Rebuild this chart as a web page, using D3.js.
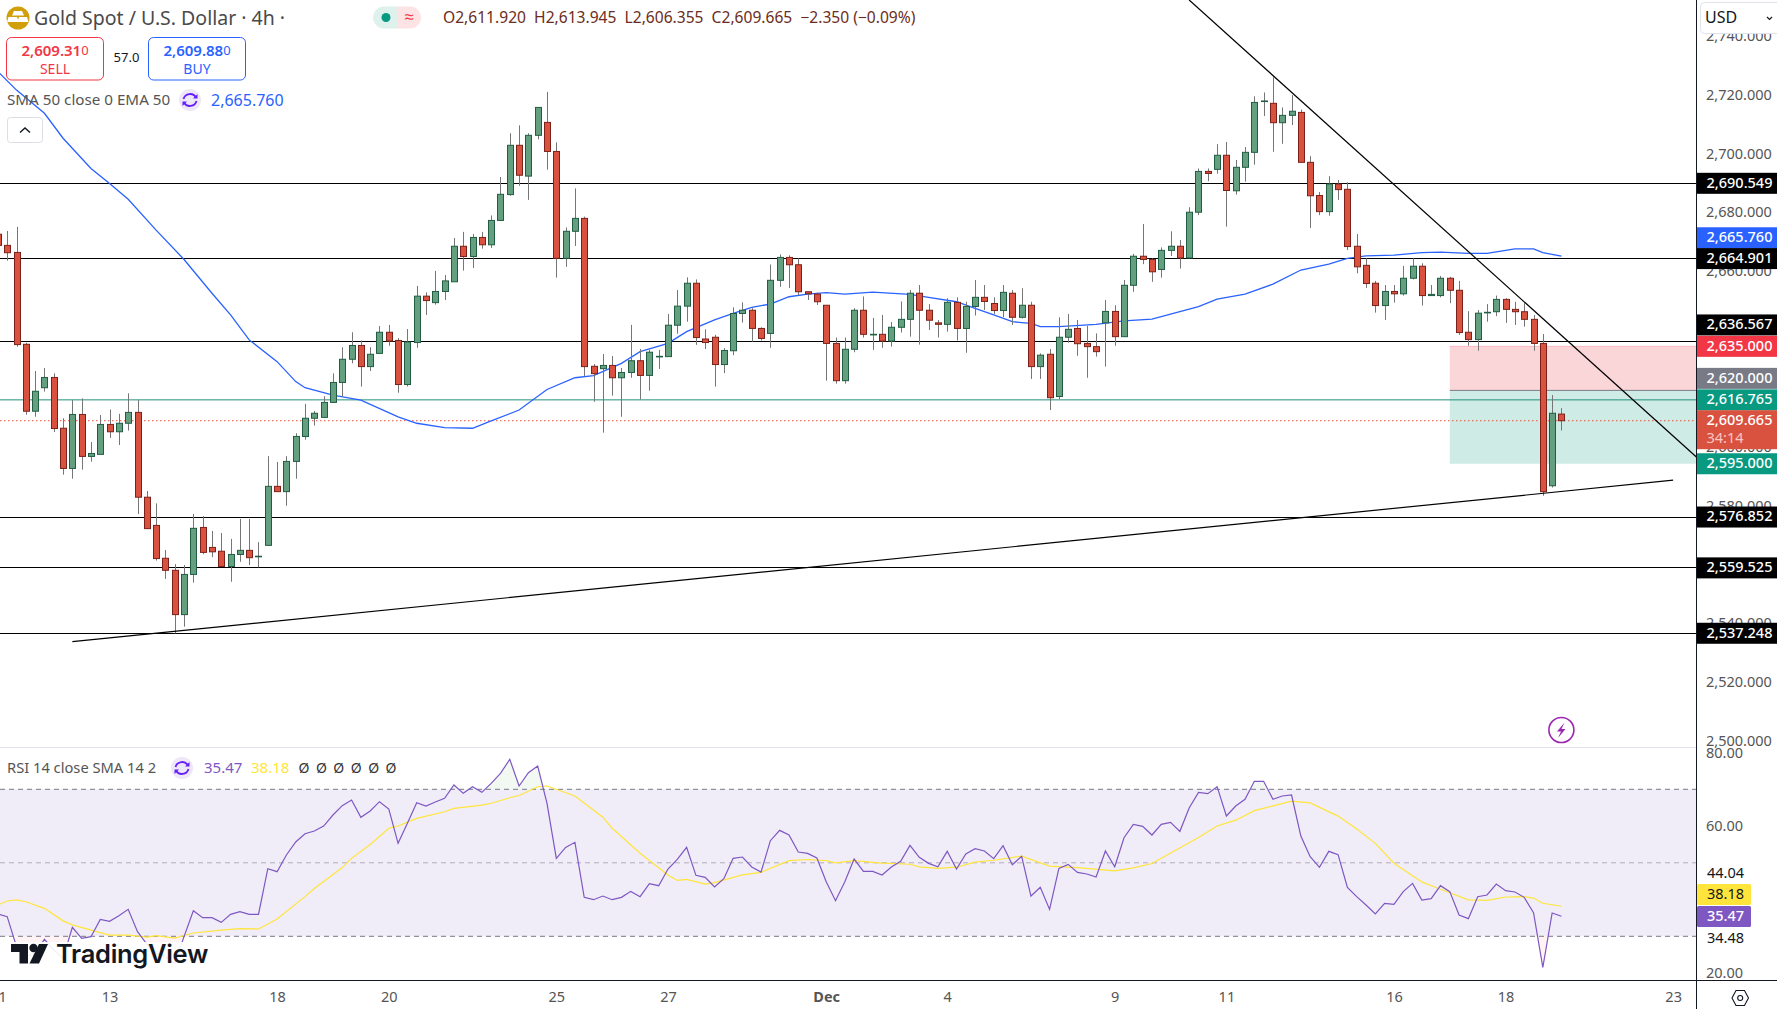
<!DOCTYPE html>
<html>
<head>
<meta charset="utf-8">
<script src="https://cdn.jsdelivr.net/npm/d3@7"></script>
<style>
html, body { margin: 0; padding: 0; background: #fff; overflow: hidden; }
text { font-family: "Noto Sans", "Open Sans", sans-serif; }
</style>
</head>
<body>
<div id="wrapper"></div>
<script>
// 4h bars, index 0 is the partly cut bar at the left edge
const opens = [2673.2,2669.4,2667,2635.7,2612.9,2620.9,2624.4,2607.1,2593.4,2611.8,2597.5,2598.2,2608.4,2605.9,2608.8,2612.5,2583.6,2574,2562.8,2558.7,2543.6,2557.3,2573.3,2566.5,2565.2,2560,2564.1,2565.5,2563.4,2567.2,2587.3,2585.5,2595.8,2604.3,2610.5,2610.8,2615.9,2622.7,2630.6,2635.3,2628.1,2632.6,2639.8,2637,2622,2636.3,2652.1,2649.9,2653.7,2657,2669.1,2665.6,2672.1,2669.6,2677.9,2686.7,2703.5,2693,2706.9,2711.3,2701.4,2665,2674.2,2678.6,2628.2,2627.4,2628.5,2624.3,2626.1,2630.1,2625.1,2631.5,2631.5,2642.2,2648.7,2656.5,2637.5,2638.1,2628.8,2633.5,2646.2,2647.3,2641.1,2639.4,2657.5,2665.3,2662.8,2653.6,2652.8,2649,2636,2623.3,2634,2647.3,2639,2639.1,2636.8,2641.5,2644.2,2653.1,2647.3,2643,2642.5,2650,2641.1,2648.6,2651.7,2649.6,2647.2,2653.1,2644.9,2649,2628.1,2632.3,2617.9,2638.1,2641.1,2636,2634.9,2643,2646.9,2638.3,2655.8,2665.7,2664.6,2661.2,2667.7,2669.1,2665.1,2680.7,2694.6,2695.3,2700.1,2688,2696,2701.1,2718.5,2717.8,2711.2,2713.7,2714.7,2697.7,2686.4,2680.9,2690.3,2688.5,2669.1,2662.6,2656.5,2648.9,2653.7,2652.9,2658.2,2662.3,2652.3,2652.3,2658.2,2654.1,2639.8,2637.3,2646.4,2646.8,2651,2647.6,2646.8,2644.2,2636,2587.5,2611.92]
const highs = [2674,2674.3,2675.7,2636.2,2626.6,2627.6,2625.8,2610.5,2616.7,2617.3,2602.4,2611.6,2613.5,2612,2619,2616.7,2585.7,2581.5,2565.6,2560.8,2560.5,2577.9,2577.2,2572.1,2571.4,2569.4,2576.2,2576.2,2568.3,2597.6,2595.6,2597.6,2605.4,2615.4,2613,2618,2625.8,2634.7,2639.8,2637,2634.7,2641.9,2642.3,2637.8,2640.9,2655.6,2653.4,2660.7,2659.3,2671.9,2674,2673.3,2674,2679.6,2692.7,2707.6,2710.3,2707.6,2716.4,2721.7,2704.5,2675.5,2688.8,2679.2,2629,2632.4,2631.7,2627.6,2642.3,2634.1,2633.8,2633.8,2646,2654.2,2658.5,2657.8,2640.8,2638.9,2634.4,2648.3,2650,2648,2641.5,2662.9,2666.3,2666,2665,2653.6,2653.3,2649,2638,2638,2648,2652,2644.7,2645.7,2643.3,2650.3,2654.2,2655.9,2649.4,2644,2651.4,2651.7,2650.2,2657.6,2655.9,2651.7,2655.9,2654.2,2654.8,2650.2,2632.6,2634.1,2644.9,2646,2644,2642,2639.4,2650.8,2649,2657.6,2666.5,2676.7,2665,2668.7,2674.2,2671.2,2682.4,2695.6,2695.6,2703.9,2704.6,2698.5,2702.9,2720.2,2721.5,2726.7,2716.4,2720.6,2715.7,2699.8,2687.6,2693,2691.7,2690.9,2673.3,2665,2657.3,2655.9,2655.9,2662.4,2665,2663.3,2655.9,2659,2658.7,2657.3,2647,2647.4,2649.4,2652.3,2651.4,2650.2,2649.7,2645.7,2639.2,2618.4,2613.945]
const lows = [2668,2664.2,2634.9,2611.7,2611,2619.6,2605.8,2591.3,2589.9,2593,2595.7,2598.2,2603.8,2601.4,2606.3,2577.9,2572.9,2562,2555.8,2537.2,2539.5,2554.5,2564.2,2563.2,2560,2554.8,2561.6,2560.5,2559.7,2567.2,2585.5,2580.7,2589.9,2603.2,2608,2610.8,2615.9,2617.9,2629.2,2621.3,2626.6,2632.6,2635.2,2619.2,2621.3,2634.5,2645.7,2649.2,2650.8,2657,2660.8,2661.7,2668.3,2668.5,2677.9,2686.3,2689.7,2684.9,2705.5,2695.2,2658.4,2662.1,2669.2,2624.9,2616.1,2605.6,2618.2,2611,2624.3,2616.9,2619.9,2627.3,2631.5,2639.3,2643.4,2635.5,2634.1,2621.3,2625.9,2632,2643.1,2636.6,2637,2634.5,2655.3,2654.9,2652.5,2650.8,2649.1,2623.3,2622.3,2622.3,2633,2638,2633.8,2634.5,2634.9,2639.7,2638.3,2635.6,2640.6,2638,2640,2637,2632.8,2645.5,2647.4,2646,2645,2642.3,2644.5,2623.9,2623.9,2613.3,2617,2636.2,2631.8,2624.3,2631.5,2628.1,2635.2,2638.3,2653.6,2663,2657,2658.4,2665.8,2661.5,2665,2679.7,2691.3,2693.8,2675.8,2686.7,2691.1,2696.9,2713.5,2701.3,2704,2710.4,2697.7,2675.3,2679.7,2679.5,2684.9,2667.8,2659.9,2654.9,2646.5,2644,2649.9,2652.3,2657.8,2648.9,2652.3,2651.7,2649.7,2638.9,2635.2,2633.5,2643.4,2645.3,2643,2642.3,2641.7,2633.5,2584.1,2586.9,2606.355]
const closes = [2669.4,2666.9,2635.6,2612.9,2619.7,2624.4,2607,2593.4,2611.8,2597.5,2598.5,2608.4,2605.9,2608.8,2612.5,2583.6,2572.9,2562.7,2558.7,2543.6,2557.3,2573,2564.8,2565,2560,2564.1,2565.5,2563,2563.5,2587.3,2585.5,2595.8,2604.3,2610.5,2612.2,2615.9,2622.7,2630.6,2635.3,2628.1,2632.3,2639.8,2636.8,2622,2636.5,2652.1,2650.6,2653.7,2657.3,2669.1,2665.6,2672.1,2669.6,2677.9,2686.8,2703.5,2693.3,2706.9,2716.4,2701.4,2665,2674.2,2678.6,2628.1,2625.7,2628.5,2624.3,2626.1,2630.1,2625.1,2633,2631.6,2642.2,2648.7,2656.5,2638,2636.3,2628.8,2633.6,2646.2,2647.3,2641.1,2637.7,2657.5,2665.3,2662.8,2653.6,2652.9,2650.2,2636,2623.3,2634,2647.3,2639.1,2639.1,2636.8,2641.5,2644.2,2653.1,2647.3,2643.9,2642.5,2650,2641.1,2648.6,2651.7,2650.3,2647.2,2653.4,2644.9,2649,2628.1,2632,2617.5,2638.1,2640.8,2635.9,2634.9,2633.2,2646.9,2638.3,2655.8,2665.7,2664.6,2660.4,2667.7,2669.1,2665.1,2680.7,2694.6,2693.9,2700.1,2688.1,2696,2701.1,2718.1,2718.6,2711.2,2713.7,2715.1,2697.7,2686.3,2680.9,2690.3,2688.4,2669,2662.1,2656.4,2648.9,2653.7,2652.9,2658.2,2662.3,2652.3,2652.7,2658.2,2654.1,2639.7,2637.3,2646.3,2646.6,2651,2647.6,2646.8,2644.2,2636,2585.5,2612.2,2609.665]

// EMA 50, vertices
const emaBars = [0,2,5,7,10,12,14,17,20,23,25,27,30,32,33,36,39,43,45,48,51,53,56,59,62,64,67,69,72,74,77,79,81,83,85,87,89,91,94,98,100,103,105,107,109,111,112,114,118,121,124,126,129,131,134,137,140,143,145,147,150,153,155,158,160,163,165,166,168]
const emaValues = [2728.6,2722.3,2714.4,2705.9,2695.6,2690.5,2685.1,2674.6,2664.6,2653.1,2645.7,2637.2,2629.8,2623,2620.9,2618.4,2616.7,2611,2608.8,2607.3,2607.1,2609.6,2613.3,2620.3,2624.3,2625,2629.2,2633.2,2636,2640,2644,2646.2,2648.3,2649.4,2651.9,2652.8,2653.3,2652.8,2653.5,2652.7,2651.7,2650.2,2647.9,2645.7,2643.4,2642.8,2641.7,2641.7,2642.5,2643.7,2644.3,2646,2648.5,2651.1,2652.8,2656.2,2661,2663,2665,2665.8,2666.1,2666.9,2667.1,2666.7,2666.7,2668.2,2668.2,2666.9,2665.76]

// RSI 14, one value per bar
const rsiValues = [36.06,35.34,27.2,24.45,25.36,29.17,26.27,24,32.44,29.44,29.9,34.6,34.07,35.61,37.33,31.26,27.9,25.36,24.45,22.64,29.9,36.97,35.07,35.07,33.8,35.97,36.7,35.97,35.97,48.4,47.58,52.12,55.66,57.92,58.65,60.01,63,65.54,67.08,62.37,64.09,66.63,64.63,55.29,60.73,66.36,65.45,66.54,67.54,71.17,68.9,70.71,69.17,71.62,74.34,78.15,70.89,74.52,76.34,66.18,51.21,54.2,55.57,40.6,39.96,40.96,39.96,40.6,42.23,40.78,44.32,43.77,48.31,50.94,54.2,46.59,46.04,43.41,45.68,51.21,51.57,48.85,47.49,56.02,58.83,57.56,52.93,52.57,51.3,44.86,39.69,44.86,51.03,47.67,47.67,46.68,48.85,50.4,54.75,51.48,49.85,48.94,53.12,48.31,52.39,53.84,53.21,51.12,54.66,49.49,51.76,40.96,43.32,37.33,48.49,49.58,47.4,46.95,46.13,53.21,48.94,56.83,60.46,59.92,57.56,60.46,61.01,58.56,64.91,69.17,68.81,70.72,62.73,65.46,67.27,72.17,72.17,67.27,68.18,68.45,57.29,51.67,48.77,53.12,52.21,43.32,40.78,38.52,36.07,38.97,38.7,42.15,44.41,39.88,40.24,43.78,42.15,35.8,34.8,40.78,41.24,44.23,42.42,42.05,40.6,36.43,21.56,36.34,35.47]

// RSI smoothing line, vertices
const smaBars = [0,1,2,3,5,7,8,11,12,14,16,17,19,21,24,26,28,30,33,34,35,37,38,40,42,43,45,48,49,52,53,55,56,58,59,62,65,66,69,72,73,74,76,77,80,82,85,87,89,90,92,95,98,99,101,103,105,107,110,113,116,120,122,124,129,131,133,135,137,139,141,144,146,148,150,152,153,155,158,160,162,164,165,166,168]
const smaValues = [38.5,39.6,39.9,39.4,37.6,34.2,33.1,31,30.3,30.3,29.8,30.2,29.5,30.9,31.7,32.1,32,34.7,40.8,43,44.9,48.7,51.2,55,59.4,60,62.1,63.9,64.8,65.7,66.2,67.7,68.3,70.7,70.9,68.2,62.4,59.4,52.6,46.7,45.2,45.5,44.2,44.6,46.7,47.4,50.6,50.9,50.6,50,50.6,49.9,49.6,48.9,48.5,48.8,50.2,50.7,51.8,49.1,48.7,47.8,48.6,49.8,56.9,60,61.6,64.2,65.5,66.8,66.3,62.7,59.2,55.3,49.9,46.5,44.8,42.8,39.9,39.8,40.7,40.8,40.4,39,38.18]

const blackLevels = [2690.549, 2664.901, 2636.567, 2576.852, 2559.525, 2537.248]
const lastPrice = 2609.665
const tealLevel = 2616.765
const stopPrice = 2635
const entryPrice = 2620
const targetPrice = 2595
const boxStartBar = 156

const fallingLine = [[128, 2753], [182.5, 2597.3]]
const risingLine = [[8, 2534.4], [180, 2589.4]]

// 2,640 2,620 and 2,560 sit fully behind the price labels in the picture
const priceTicks = [2740, 2720, 2700, 2680, 2660, 2600, 2580, 2540, 2520, 2500]
const rsiTicks = [80, 60, 20]
const rsiBands = [70, 50, 30]
const timeBars = [0, 12, 30, 42, 60, 72, 89, 102, 120, 132, 150, 162, 180]
const timeLabels = ["11", "13", "18", "20", "25", "27", "Dec", "4", "9", "11", "16", "18", "23"]

const labelTexts = ["2,690.549","2,665.760","2,664.901","2,636.567","2,635.000","2,620.000","2,616.765","2,595.000","2,576.852","2,559.525","2,537.248"]
const labelPrices = [2690.549, 2665.76, 2664.901, 2636.567, 2635, 2620, 2616.765, 2595, 2576.852, 2559.525, 2537.248]

const width = 1777
const height = 1009
const axisX = 1696.5
const paneBottom = 747
const rsiBottom = 980

const green = "#649f80", greenEdge = "#215d43"
const red = "#d9513f", redEdge = "#7c2119"
const blue = "#2962ff", purple = "#7e57c2", yellow = "#ffe53b"
const ink = "#131722", gray = "#555"

const svg = d3.select("#wrapper")
    .append("svg")
    .attr("width", width)
    .attr("height", height)
    .style("display", "block")

const xScale = d3.scaleLinear().domain([0, 182.5]).range([-2.1, 1696.4])
const yScale = d3.scaleLinear().domain([2753, 2498.5]).range([0, paneBottom])
const rsiScale = d3.scaleLinear().domain([80, 20]).range([752.55, 973.05])

const defs = svg.append("defs")
defs.append("clipPath").attr("id", "pricePane").append("rect")
    .attr("width", axisX).attr("height", paneBottom)
defs.append("clipPath").attr("id", "rsiPane").append("rect")
    .attr("y", paneBottom).attr("width", axisX).attr("height", rsiBottom - paneBottom)
defs.append("clipPath").attr("id", "aboveBand").append("rect")
    .attr("y", paneBottom).attr("width", axisX).attr("height", rsiScale(70) - paneBottom)
defs.append("clipPath").attr("id", "belowBand").append("rect")
    .attr("y", rsiScale(30)).attr("width", axisX).attr("height", rsiBottom - rsiScale(30))

// ---- price pane ----
const pane = svg.append("g").attr("clip-path", "url(#pricePane)")

pane.append("rect")
    .attr("x", xScale(boxStartBar)).attr("y", yScale(stopPrice))
    .attr("width", axisX - xScale(boxStartBar)).attr("height", yScale(entryPrice) - yScale(stopPrice))
    .attr("fill", "#fbd6d9")
pane.append("rect")
    .attr("x", xScale(boxStartBar)).attr("y", yScale(entryPrice))
    .attr("width", axisX - xScale(boxStartBar)).attr("height", yScale(targetPrice) - yScale(entryPrice))
    .attr("fill", "#ceebe5")
pane.append("line")
    .attr("x1", xScale(boxStartBar)).attr("x2", axisX)
    .attr("y1", yScale(stopPrice)).attr("y2", yScale(stopPrice))
    .attr("stroke", "#f9b9be").attr("stroke-width", 1)
pane.append("line")
    .attr("x1", xScale(boxStartBar)).attr("x2", axisX)
    .attr("y1", yScale(entryPrice)).attr("y2", yScale(entryPrice))
    .attr("stroke", "#787b86").attr("stroke-width", 1)

pane.selectAll(".level")
    .data(blackLevels)
    .enter()
    .append("line")
    .attr("class", "level")
    .attr("x1", 0).attr("x2", axisX)
    .attr("y1", d => Math.floor(yScale(d)) + 0.5)
    .attr("y2", d => Math.floor(yScale(d)) + 0.5)
    .attr("stroke", "#000").attr("stroke-width", 1.2)

pane.append("line")
    .attr("x1", 0).attr("x2", axisX)
    .attr("y1", yScale(tealLevel)).attr("y2", yScale(tealLevel))
    .attr("stroke", "#22917e").attr("stroke-width", 1)
pane.append("line")
    .attr("x1", 0).attr("x2", axisX)
    .attr("y1", yScale(lastPrice)).attr("y2", yScale(lastPrice))
    .attr("stroke", "#f0503c").attr("stroke-width", 1).attr("stroke-dasharray", "1.5 2.5")

const emaLine = d3.line()
    .x((d, i) => xScale(emaBars[i]))
    .y(d => yScale(d))
pane.append("path")
    .datum(emaValues)
    .attr("fill", "none").attr("stroke", blue).attr("stroke-width", 1.3)
    .attr("d", emaLine)

const bars = pane.append("g")
    .selectAll("g")
    .data(opens.map((o, i) => i))
    .enter()
    .append("g")
bars.append("line")
    .attr("x1", i => Math.round(xScale(i)) + 0.5).attr("x2", i => Math.round(xScale(i)) + 0.5)
    .attr("y1", i => yScale(highs[i])).attr("y2", i => yScale(lows[i]))
    .attr("stroke", "#767676").attr("stroke-width", 1)
bars.append("rect")
    .attr("x", i => Math.round(xScale(i)) - 2.5)
    .attr("width", 6)
    .attr("y", i => yScale(Math.max(opens[i], closes[i])))
    .attr("height", i => Math.max(0.6, Math.abs(yScale(opens[i]) - yScale(closes[i]))))
    .attr("fill", i => closes[i] >= opens[i] ? green : red)
    .attr("stroke", i => closes[i] >= opens[i] ? greenEdge : redEdge)
    .attr("stroke-width", 1)

const straightLine = d3.line().x(d => xScale(d[0])).y(d => yScale(d[1]))
pane.selectAll(".trend")
    .data([fallingLine, risingLine])
    .enter()
    .append("path")
    .attr("class", "trend")
    .attr("fill", "none").attr("stroke", "#000").attr("stroke-width", 1.2)
    .attr("d", straightLine)

// ---- rsi pane ----
const rsiPane = svg.append("g")
rsiPane.append("rect")
    .attr("x", 0).attr("y", rsiScale(70))
    .attr("width", axisX).attr("height", rsiScale(30) - rsiScale(70))
    .attr("fill", "#f0edf8")
rsiPane.selectAll(".band")
    .data(rsiBands)
    .enter()
    .append("line")
    .attr("class", "band")
    .attr("x1", 0).attr("x2", axisX)
    .attr("y1", d => rsiScale(d)).attr("y2", d => rsiScale(d))
    .attr("stroke", d => d === 50 ? "#b2adb8" : "#787b86")
    .attr("stroke-width", 1).attr("stroke-dasharray", "5 4")

const rsiArea = (edge) => d3.area()
    .x((d, i) => xScale(i))
    .y0(rsiScale(edge))
    .y1(d => rsiScale(d))
rsiPane.append("path").datum(rsiValues)
    .attr("clip-path", "url(#aboveBand)").attr("fill", "#4caf50").attr("opacity", 0.07)
    .attr("d", rsiArea(70))
rsiPane.append("path").datum(rsiValues)
    .attr("clip-path", "url(#belowBand)").attr("fill", "#ff5252").attr("opacity", 0.07)
    .attr("d", rsiArea(30))

const rsiClip = rsiPane.append("g").attr("clip-path", "url(#rsiPane)")
rsiClip.append("path").datum(smaValues)
    .attr("fill", "none").attr("stroke", yellow).attr("stroke-width", 1.2)
    .attr("d", d3.line().x((d, i) => xScale(smaBars[i])).y(d => rsiScale(d)))
rsiClip.append("path").datum(rsiValues)
    .attr("fill", "none").attr("stroke", purple).attr("stroke-width", 1.2)
    .attr("d", d3.line().x((d, i) => xScale(i)).y(d => rsiScale(d)))

// ---- frames and axes ----
svg.append("line")
    .attr("x1", 0).attr("x2", axisX).attr("y1", paneBottom + 0.5).attr("y2", paneBottom + 0.5)
    .attr("stroke", "#e0e3eb").attr("stroke-width", 1)
svg.append("line")
    .attr("x1", 0).attr("x2", width).attr("y1", rsiBottom + 0.5).attr("y2", rsiBottom + 0.5)
    .attr("stroke", ink).attr("stroke-width", 1)
svg.append("line")
    .attr("x1", axisX).attr("x2", axisX).attr("y1", 0).attr("y2", height)
    .attr("stroke", ink).attr("stroke-width", 1)

const priceAxis = d3.axisRight(yScale)
    .tickValues(priceTicks)
    .tickSize(0).tickPadding(9.5)
    .tickFormat(d3.format(",.3f"))
svg.append("g")
    .attr("transform", `translate(${axisX},-2)`)
    .call(priceAxis)
    .call(g => g.select(".domain").remove())
    .call(g => g.selectAll("text").attr("font-size", 14.5).attr("fill", gray).style("font-family", "Noto Sans"))

const rsiAxis = d3.axisRight(rsiScale)
    .tickValues(rsiTicks)
    .tickSize(0).tickPadding(9.5)
    .tickFormat(d3.format(".2f"))
svg.append("g")
    .attr("transform", `translate(${axisX},0)`)
    .call(rsiAxis)
    .call(g => g.select(".domain").remove())
    .call(g => g.selectAll("text").attr("font-size", 14.5).attr("fill", gray).style("font-family", "Noto Sans"))

const timeAxis = d3.axisBottom(xScale)
    .tickValues(timeBars)
    .tickSize(0).tickPadding(12)
    .tickFormat((d, i) => timeLabels[i])
svg.append("g")
    .attr("transform", `translate(0,${rsiBottom})`)
    .call(timeAxis)
    .call(g => g.select(".domain").remove())
    .call(g => g.selectAll("text").attr("font-size", 14.5).attr("fill", gray).style("font-family", "Noto Sans")
        .attr("font-weight", (d, i) => timeLabels[i] === "Dec" ? 700 : 400))

// price labels, some are pushed away from their level so they do not overlap
const labelColors = ["#000", blue, "#000", "#000", "#f23645", "#787b86", "#089981", "#089981", "#000", "#000", "#000"]
const labelShift = [0, -18.3, 0, -16.8, 0, -12, 0, 0, 0, 0, 0]

const labels = svg.append("g").selectAll("g")
    .data(labelTexts)
    .enter()
    .append("g")
    .attr("transform", (d, i) => `translate(${axisX + 0.5},${yScale(labelPrices[i]) + labelShift[i]})`)
labels.append("rect")
    .attr("y", -10.5).attr("width", width - axisX).attr("height", 21)
    .attr("fill", (d, i) => labelColors[i])
labels.append("text")
    .attr("x", 9.5).attr("y", -0.5).attr("dy", "0.34em")
    .attr("font-size", 14.5).attr("font-weight", 500).attr("fill", "#fff")
    .text(d => d)

const lastLabel = svg.append("g").attr("transform", `translate(${axisX + 0.5},${yScale(lastPrice)})`)
lastLabel.append("rect").attr("y", -10.5).attr("width", width - axisX).attr("height", 39).attr("fill", red)
lastLabel.append("text").attr("x", 9.5).attr("y", -1).attr("dy", "0.34em")
    .attr("font-size", 14.5).attr("font-weight", 500).attr("fill", "#fff").text("2,609.665")
lastLabel.append("text").attr("x", 9.5).attr("y", 17).attr("dy", "0.34em")
    .attr("font-size", 14.5).attr("fill", "#f9c7c0").text("34:14")

// usd selector
svg.append("rect").attr("x", 1700.5).attr("y", 2.5).attr("width", 90).attr("height", 31).attr("rx", 4)
    .attr("fill", "#fff").attr("stroke", "#e0e3eb")
svg.append("text").attr("x", 1705).attr("y", 23).attr("font-size", 16).attr("fill", ink).text("USD")
svg.append("path").attr("d", "M1767 17 l2.5 2.5 l2.5 -2.5").attr("fill", "none").attr("stroke", ink).attr("stroke-width", 1.2)

// rsi side labels
svg.append("text").attr("x", 1707).attr("y", 873.5).attr("dy", "0.34em").attr("font-size", 14.5).attr("fill", ink).text("44.04")
svg.append("text").attr("x", 1707).attr("y", 938).attr("dy", "0.34em").attr("font-size", 14.5).attr("fill", ink).text("34.48")
svg.append("rect").attr("x", axisX + 0.5).attr("y", 884).attr("width", 54).attr("height", 21).attr("rx", 1.5).attr("fill", yellow)
svg.append("text").attr("x", 1707).attr("y", 894.5).attr("dy", "0.34em").attr("font-size", 14.5).attr("fill", ink).text("38.18")
svg.append("rect").attr("x", axisX + 0.5).attr("y", 906).attr("width", 54).attr("height", 21).attr("rx", 1.5).attr("fill", purple)
svg.append("text").attr("x", 1707).attr("y", 916.5).attr("dy", "0.34em").attr("font-size", 14.5).attr("font-weight", 500).attr("fill", "#fff").text("35.47")

// settings hexagon
svg.append("path").attr("d", "M1732 998 l4 -7.5 h8.5 l4 7.5 l-4 7.5 h-8.5 z").attr("fill", "none").attr("stroke", ink).attr("stroke-width", 1.1)
svg.append("circle").attr("cx", 1740.2).attr("cy", 998).attr("r", 2.5).attr("fill", "none").attr("stroke", ink).attr("stroke-width", 1.1)

// ---- header ----
const header = svg.append("g")
header.append("circle").attr("cx", 18).attr("cy", 18).attr("r", 11.5).attr("fill", "#d19f0c")
header.append("path").attr("d", "M14 11 h8 l2 4.5 h-12 z M8.5 17 h8.5 l2 5 h-12 z M19 17 h8 l1.5 5 h-11 z").attr("fill", "#fff")
header.append("text").attr("x", 34).attr("y", 25).attr("font-size", 19.5).attr("fill", "#4a4a4a").text("Gold Spot / U.S. Dollar · 4h ·")

header.append("path").attr("d", "M397 6.5 h-13 a11 11 0 0 0 0 22 h13 z").attr("fill", "#dff1ed")
header.append("path").attr("d", "M397 6.5 h13 a11 11 0 0 1 0 22 h-13 z").attr("fill", "#fde3e4")
header.append("circle").attr("cx", 386).attr("cy", 17.5).attr("r", 4.5).attr("fill", "#089981")
header.append("text").attr("x", 409).attr("y", 23).attr("text-anchor", "middle").attr("font-size", 17).attr("fill", "#f23645").text("≈")

header.append("text").attr("x", 443).attr("y", 23).attr("font-size", 15.6).attr("fill", "#6b2d22")
    .attr("xml:space", "preserve")
    .text("O2,611.920  H2,613.945  L2,606.355  C2,609.665  −2.350 (−0.09%)")

function tradeBox(x, w, color, price, small, word) {
    const g = svg.append("g")
    g.append("rect").attr("x", x).attr("y", 37.5).attr("width", w).attr("height", 42.5).attr("rx", 5)
        .attr("fill", "#fff").attr("stroke", color).attr("stroke-width", 1)
    const t = g.append("text").attr("x", x + w / 2).attr("y", 56).attr("text-anchor", "middle").attr("fill", color)
    t.append("tspan").attr("font-size", 15).attr("font-weight", 600).text(price)
    t.append("tspan").attr("font-size", 13).attr("dy", -1.5).text(small)
    g.append("text").attr("x", x + w / 2).attr("y", 73.5).attr("text-anchor", "middle")
        .attr("font-size", 14).attr("fill", color).text(word)
}
tradeBox(6.5, 97, "#f23645", "2,609.31", "0", "SELL")
tradeBox(148.5, 97, blue, "2,609.88", "0", "BUY")
header.append("text").attr("x", 126.5).attr("y", 62).attr("text-anchor", "middle").attr("font-size", 13).attr("fill", ink).text("57.0")

function syncIcon(cx, cy) {
    const g = svg.append("g").attr("transform", `translate(${cx},${cy})`)
    g.append("circle").attr("r", 11).attr("fill", "#ede7f6")
    g.append("path").attr("d", "M-6.5 -1 A6.8 6.8 0 0 1 6 -2.5 M6.5 1 A6.8 6.8 0 0 1 -6 2.5")
        .attr("fill", "none").attr("stroke", "#651fff").attr("stroke-width", 1.8)
    g.append("path").attr("d", "M7.5 -6 v4.5 h-4.5 z M-7.5 6 v-4.5 h4.5 z").attr("fill", "#651fff")
}

header.append("text").attr("x", 7).attr("y", 105).attr("font-size", 15.2).attr("fill", gray).text("SMA 50 close 0 EMA 50")
syncIcon(190, 100)
header.append("text").attr("x", 211).attr("y", 105.5).attr("font-size", 16).attr("fill", blue).text("2,665.760")

header.append("rect").attr("x", 7.5).attr("y", 117.5).attr("width", 35).attr("height", 25).attr("rx", 3)
    .attr("fill", "#fff").attr("stroke", "#dcdee4")
header.append("path").attr("d", "M20 132.5 l5 -4.5 l5 4.5").attr("fill", "none").attr("stroke", ink).attr("stroke-width", 1.4)

// rsi legend
header.append("text").attr("x", 7).attr("y", 773).attr("font-size", 14.7).attr("fill", gray).text("RSI 14 close SMA 14 2")
syncIcon(182, 768)
header.append("text").attr("x", 204).attr("y", 773).attr("font-size", 15).attr("fill", purple).text("35.47")
header.append("text").attr("x", 251).attr("y", 773).attr("font-size", 15).attr("fill", yellow).text("38.18")
const emptyMarks = ["Ø", "Ø", "Ø", "Ø", "Ø", "Ø"]
header.selectAll(".empty")
    .data(emptyMarks)
    .enter()
    .append("text")
    .attr("class", "empty")
    .attr("x", (d, i) => 304 + i * 17.4)
    .attr("y", 773).attr("text-anchor", "middle")
    .attr("font-size", 14).attr("fill", "#333")
    .text(d => d)

// lightning marker
svg.append("circle").attr("cx", 1561.4).attr("cy", 730).attr("r", 12.5)
    .attr("fill", "#fff").attr("stroke", "#9c27b0").attr("stroke-width", 1.6)
svg.append("path").attr("d", "M1564.5 722.5 l-7.5 9 h4 l-3 6.5 l7.5 -9 h-4 z").attr("fill", "#9c27b0")

// tradingview mark, the picture fades the rsi line behind it
svg.append("rect").attr("x", 9).attr("y", 942).attr("width", 200).attr("height", 28).attr("fill", "#fff").attr("opacity", 0.9)
const logo = svg.append("g").attr("fill", "#131722")
logo.append("path").attr("d", "M11 944 h17 v19.5 h-8.5 v-11.5 h-8.5 z")
logo.append("circle").attr("cx", 33.5).attr("cy", 948).attr("r", 4.2)
logo.append("path").attr("d", "M39 944 h9 l-9 19.5 h-9.5 z")
logo.append("text").attr("x", 56).attr("y", 962.5)
    .attr("font-size", 25.5).attr("font-weight", 600).attr("letter-spacing", -0.3)
    .style("font-family", "Inter")
    .text("TradingView")
</script>
</body>
</html>
